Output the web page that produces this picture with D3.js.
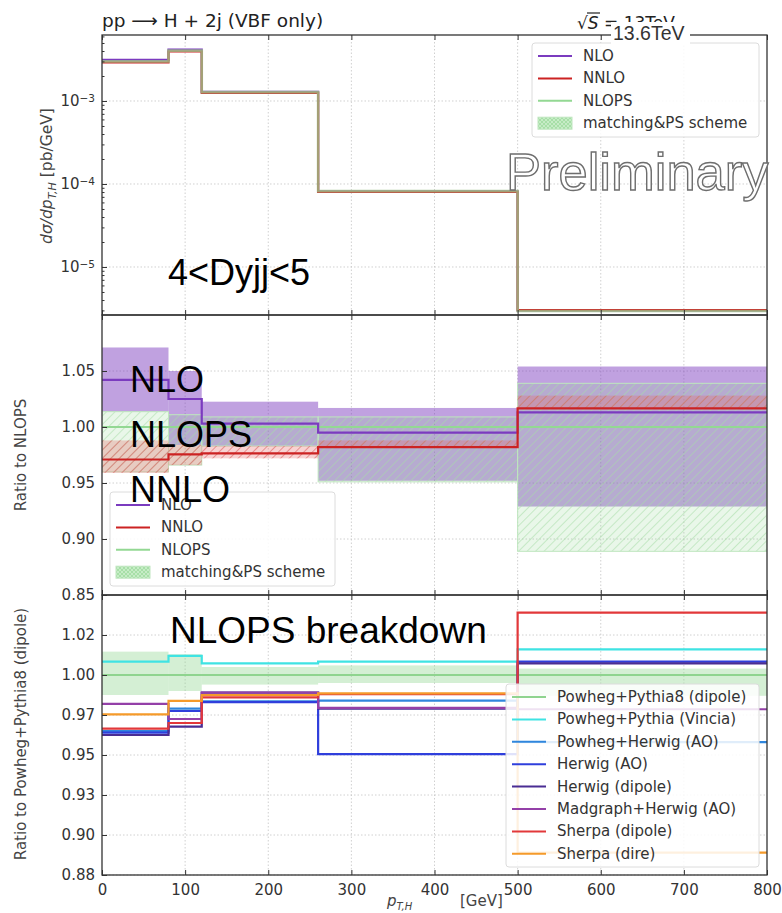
<!DOCTYPE html>
<html>
<head>
<meta charset="utf-8">
<script src="https://cdn.jsdelivr.net/npm/d3@7"></script>
<style>
body { margin: 0; background: #fff; }
svg { display: block; }
text { font-family: "DejaVu Sans", sans-serif; }
</style>
</head>
<body>
<svg id="chart" width="782" height="913"></svg>
<script>
// bin edges in pT,H [GeV]
var edges = [0, 80, 120, 260, 500, 800];

// top panel: cross sections [pb/GeV]
var xsNLO   = [3.13e-3, 4.15e-3, 1.285e-3, 8.16e-5, 2.99e-6];
var xsNNLO  = [2.92e-3, 3.95e-3, 1.25e-3, 8.05e-5, 3.02e-6];
var xsNLOPS = [3.00e-3, 4.05e-3, 1.28e-3, 8.20e-5, 2.95e-6];

// middle panel: ratio to NLOPS
var ratNLO      = [1.042, 1.025, 1.003, 0.995, 1.013];
var ratNNLO     = [0.971, 0.9756, 0.9765, 0.982, 1.0167];
var nloLo       = [1.0137, 0.984, 0.983, 0.952, 0.929];
var nloHi       = [1.071, 1.050, 1.0226, 1.017, 1.054];
var nnloLo      = [0.959, 0.966, 0.972, 0.982, 1.0167];
var nnloHi      = [0.988, 0.984, 0.983, 0.988, 1.028];
var psLo        = [0.960, 0.966, 0.983, 0.951, 0.889];
var psHi        = [1.0137, 1.011, 1.009, 1.009, 1.039];

// bottom panel: ratio to Powheg+Pythia8 (dipole)
var pyDipole     = [1, 1, 1, 1, 1];
var pyDipoleLo   = [0.9875, 0.990, 0.994, 0.995, 0.987];
var pyDipoleHi   = [1.0146, 1.013, 1.005, 1.006, 1.004];
var pyVincia     = [1.0083, 1.012, 1.0073, 1.0083, 1.016];
var powHerwigAO  = [0.965, 0.979, 0.9835, 0.984, 0.958];
var herwigAO     = [0.964, 0.9775, 0.983, 0.9506, 1.0083];
var herwigDipole = [0.9625, 0.9677, 0.989, 0.979, 1.0073];
var mgHerwigAO   = [0.982, 0.9725, 0.989, 0.9795, 0.9786];
var sherpaDipole = [0.9665, 0.970, 0.986, 0.988, 1.039];
var sherpaDire   = [0.9754, 0.9838, 0.9875, 0.9885, 0.889];

var breakdownNames = ["Powheg+Pythia8 (dipole)", "Powheg+Pythia (Vincia)", "Powheg+Herwig (AO)",
    "Herwig (AO)", "Herwig (dipole)", "Madgraph+Herwig (AO)", "Sherpa (dipole)", "Sherpa (dire)"];
var breakdownVals = [pyDipole, pyVincia, powHerwigAO, herwigAO, herwigDipole, mgHerwigAO, sherpaDipole, sherpaDire];
var breakdownCols = ["#8fd48f", "#3fe3e3", "#2f86dd", "#2f3fdc", "#4a2d93", "#9440a8", "#e2383a", "#f59a2a"];

// ticks
var xTicks = [0, 100, 200, 300, 400, 500, 600, 700, 800];
var topTicks = [1e-5, 1e-4, 1e-3];
var topTickExp = ["\u22125", "\u22124", "\u22123"];
var midTicks = [0.85, 0.90, 0.95, 1.00, 1.05];
var botTicks = [0.875, 0.9, 0.925, 0.95, 0.975, 1.0, 1.025];
var botTickLabels = ["0.88", "0.90", "0.93", "0.95", "0.97", "1.00", "1.02"];

var cNLO = "#7b3bbf", cNNLO = "#cc2222", cPS = "#93d893";

var svg = d3.select("#chart");
var L = 102, R = 767;
var x = d3.scaleLinear().domain([0, 800]).range([L, R]);
var yTop = d3.scaleLog().domain([2.64e-6, 6.24e-3]).range([315, 35]);
var yMid = d3.scaleLinear().domain([0.85, 1.10]).range([595, 315]);
var yBot = d3.scaleLinear().domain([0.875, 1.05]).range([875, 595]);

var defs = svg.append("defs");
function hatch(id, col, w) {
    var p = defs.append("pattern").attr("id", id).attr("patternUnits", "userSpaceOnUse")
        .attr("width", 6).attr("height", 6).attr("patternTransform", "rotate(45)");
    p.append("line").attr("x1", 0).attr("y1", 0).attr("x2", 0).attr("y2", 6)
        .attr("stroke", col).attr("stroke-width", w);
}
hatch("hG", "#a6dca6", 1.1);
hatch("hR", "#d85a5a", 1.1);
var xp = defs.append("pattern").attr("id", "xG").attr("patternUnits", "userSpaceOnUse")
    .attr("width", 4).attr("height", 4);
xp.append("rect").attr("width", 4).attr("height", 4).attr("fill", "#c6ecc6");
xp.append("path").attr("d", "M0,0L4,4M4,0L0,4").attr("stroke", "#9fdc9f").attr("stroke-width", 0.8);

[["cTop", 35], ["cMid", 315], ["cBot", 595]].forEach(function(c) {
    defs.append("clipPath").attr("id", c[0]).append("rect")
        .attr("x", L).attr("y", c[1]).attr("width", R - L).attr("height", 280);
});

function pts(v) { return edges.map(function(e, i) { return [e, v[Math.min(i, v.length - 1)]]; }); }
function bins(lo, hi) { return lo.map(function(d, i) { return {x0: edges[i], x1: edges[i + 1], lo: d, hi: hi[i]}; }); }

function grid(y, yt, top, bot) {
    var g = svg.append("g").attr("stroke", "#c4c4c4").attr("stroke-width", 0.8).attr("stroke-dasharray", "1.5,2");
    g.selectAll("line.v").data(xTicks.slice(1, -1)).enter().append("line")
        .attr("x1", function(d) { return x(d); }).attr("x2", function(d) { return x(d); })
        .attr("y1", top).attr("y2", bot);
    g.selectAll("line.h").data(yt).enter().append("line")
        .attr("x1", L).attr("x2", R)
        .attr("y1", function(d) { return y(d); }).attr("y2", function(d) { return y(d); });
}
grid(yTop, topTicks, 35, 315);
grid(yMid, midTicks.slice(1), 315, 595);
grid(yBot, botTicks, 595, 875);

function bands(g, y, lo, hi, fill, op, pat) {
    g.selectAll(null).data(bins(lo, hi)).enter().append("rect")
        .attr("x", function(d) { return x(d.x0); })
        .attr("width", function(d) { return x(d.x1) - x(d.x0); })
        .attr("y", function(d) { return y(d.hi); })
        .attr("height", function(d) { return y(d.lo) - y(d.hi); })
        .attr("fill", fill).attr("fill-opacity", op);
    if (pat) {
        g.selectAll(null).data(bins(lo, hi)).enter().append("rect")
            .attr("x", function(d) { return x(d.x0); })
            .attr("width", function(d) { return x(d.x1) - x(d.x0); })
            .attr("y", function(d) { return y(d.hi); })
            .attr("height", function(d) { return y(d.lo) - y(d.hi); })
            .attr("fill", "url(#" + pat + ")");
    }
}
function step(g, y, v, col, w, op) {
    var line = d3.line().curve(d3.curveStepAfter)
        .x(function(d) { return x(d[0]); }).y(function(d) { return y(d[1]); });
    g.append("path").datum(pts(v)).attr("d", line).attr("fill", "none")
        .attr("stroke", col).attr("stroke-width", w).attr("stroke-opacity", op || 1);
}

// top panel
var gT = svg.append("g").attr("clip-path", "url(#cTop)");
step(gT, yTop, xsNLO, cNLO, 2.2);
step(gT, yTop, xsNNLO, cNNLO, 2.2);
step(gT, yTop, xsNLOPS, "#9bbf8a", 2.6, 0.8);

// middle panel
var gM = svg.append("g").attr("clip-path", "url(#cMid)");
bands(gM, yMid, nloLo, nloHi, cNLO, 0.48);
bands(gM, yMid, psLo, psHi, cPS, 0.2, "hG");
gM.selectAll(null).data(bins(psLo, psHi)).enter().append("rect")
    .attr("x", function(d) { return x(d.x0); }).attr("width", function(d) { return x(d.x1) - x(d.x0); })
    .attr("y", function(d) { return yMid(d.hi); }).attr("height", function(d) { return yMid(d.lo) - yMid(d.hi); })
    .attr("fill", "none").attr("stroke", "#bfe6bf").attr("stroke-width", 1);
bands(gM, yMid, nnloLo, nnloHi, "#e86a6a", 0.3, "hR");
step(gM, yMid, pyDipole, cPS, 2);
step(gM, yMid, ratNLO, cNLO, 2.2);
step(gM, yMid, ratNNLO, cNNLO, 2.2);

// bottom panel
var gB = svg.append("g").attr("clip-path", "url(#cBot)");
bands(gB, yBot, pyDipoleLo, pyDipoleHi, cPS, 0.4);
breakdownVals.forEach(function(v, i) { step(gB, yBot, v, breakdownCols[i], 2.2); });

// axes
function axes(y, top, bot, yt, yfmt, showX) {
    var ax = svg.append("g").attr("transform", "translate(0," + bot + ")")
        .call(d3.axisBottom(x).tickValues(xTicks).tickSize(-5).tickPadding(9)
            .tickFormat(showX ? d3.format("d") : function() { return ""; }));
    var at = svg.append("g").attr("transform", "translate(0," + top + ")")
        .call(d3.axisTop(x).tickValues(xTicks).tickSize(-5).tickFormat(function() { return ""; }));
    var ay = svg.append("g").attr("transform", "translate(" + L + ",0)")
        .call(d3.axisLeft(y).tickValues(yt).tickSize(-5).tickPadding(7).tickFormat(yfmt));
    [ax, at, ay].forEach(function(a) {
        a.select(".domain").remove();
        a.selectAll("line").attr("stroke", "#333").attr("stroke-width", 1);
        a.selectAll("text").attr("fill", "#333").style("font-size", "15px")
            .style("font-family", "DejaVu Sans, sans-serif");
    });
    return ay;
}
var ayT = axes(yTop, 35, 315, topTicks, function() { return ""; }, false);
ayT.selectAll(".tick text").each(function(d, i) {
    var t = d3.select(this);
    t.append("tspan").text("10");
    t.append("tspan").attr("dy", "-0.45em").style("font-size", "10.5px").text(topTickExp[i]);
});
var minor = [];
[1e-6, 1e-5, 1e-4, 1e-3].forEach(function(b) { for (var k = 2; k < 10; k++) minor.push(b * k); });
var mn = svg.append("g").attr("transform", "translate(" + L + ",0)")
    .call(d3.axisLeft(yTop).tickValues(minor.filter(function(v) { return v > 2.64e-6 && v < 6.24e-3; }))
        .tickSize(-2.5).tickFormat(function() { return ""; }));
mn.select(".domain").remove();
mn.selectAll("line").attr("stroke", "#333");

axes(yMid, 315, 595, midTicks, d3.format(".2f"), false);
axes(yBot, 595, 875, botTicks, function(d, i) { return botTickLabels[i]; }, true);

// frames
[35, 315, 595].forEach(function(t) {
    svg.append("rect").attr("x", L).attr("y", t).attr("width", R - L).attr("height", 280)
        .attr("fill", "none").attr("stroke", "#333").attr("stroke-width", 1.3);
});

// legends
function legend(x0, y0, w, h, rows, dy) {
    var g = svg.append("g");
    g.append("rect").attr("x", x0).attr("y", y0).attr("width", w).attr("height", h).attr("rx", 3)
        .attr("fill", "#fff").attr("fill-opacity", 0.85).attr("stroke", "#dcdcdc");
    rows.forEach(function(r, i) {
        var yy = y0 + 13 + i * dy;
        if (r.patch) {
            g.append("rect").attr("x", x0 + 6).attr("y", yy - 6).attr("width", 34).attr("height", 12)
                .attr("fill", "url(#xG)").attr("stroke", "#bfe6bf");
        } else {
            g.append("line").attr("x1", x0 + 6).attr("x2", x0 + 40).attr("y1", yy).attr("y2", yy)
                .attr("stroke", r.col).attr("stroke-width", 2);
        }
        g.append("text").attr("x", x0 + 51).attr("y", yy + 5).attr("fill", "#333")
            .style("font-size", "15px").text(r.name);
    });
}
var mainRows = [{name: "NLO", col: cNLO}, {name: "NNLO", col: cNNLO},
    {name: "NLOPS", col: cPS}, {name: "matching&PS scheme", patch: true}];
legend(532, 43, 227, 94, mainRows, 22.4);
legend(110, 492, 225, 94, mainRows, 22.4);
legend(506, 684, 253, 183, breakdownNames.map(function(n, i) { return {name: n, col: breakdownCols[i]}; }), 22.4);

// axis labels
var yl = svg.append("text").attr("transform", "translate(52,176) rotate(-90)")
    .attr("text-anchor", "middle").attr("fill", "#444").style("font-size", "15.5px");
yl.append("tspan").style("font-style", "italic").text("d\u03c3/dp");
yl.append("tspan").attr("dy", 4).style("font-size", "11px").style("font-style", "italic").text("T,H");
yl.append("tspan").attr("dy", -4).text(" [pb/GeV]");
svg.append("text").attr("transform", "translate(26,455) rotate(-90)").attr("text-anchor", "middle")
    .attr("fill", "#444").style("font-size", "15px").text("Ratio to NLOPS");
svg.append("text").attr("transform", "translate(26,734) rotate(-90)").attr("text-anchor", "middle")
    .attr("fill", "#444").style("font-size", "15px").text("Ratio to Powheg+Pythia8 (dipole)");
var xl = svg.append("text").attr("x", 387).attr("y", 906).attr("fill", "#444").style("font-size", "15px");
xl.append("tspan").style("font-style", "italic").text("p");
xl.append("tspan").attr("dy", 4).style("font-size", "10px").style("font-style", "italic").text("T,H");
xl.append("tspan").attr("dy", -4).attr("x", 460).text("[GeV]");

// title and energy
svg.append("text").attr("x", 102).attr("y", 27).attr("fill", "#222").style("font-size", "18.5px")
    .text("pp \u27f6 H + 2j (VBF only)");
var en = svg.append("text").attr("x", 577).attr("y", 29).attr("fill", "#222").style("font-size", "17px");
en.append("tspan").text("\u221a");
en.append("tspan").style("font-style", "italic").text("S");
en.append("tspan").text(" = 13TeV");
svg.append("line").attr("x1", 587).attr("x2", 600).attr("y1", 13).attr("y2", 13)
    .attr("stroke", "#222").attr("stroke-width", 1.2);
svg.append("rect").attr("x", 611).attr("y", 22).attr("width", 79).attr("height", 22).attr("fill", "#fff");
svg.append("text").attr("x", 613).attr("y", 40).attr("fill", "#333")
    .style("font-family", "Liberation Sans, Arial, sans-serif").style("font-size", "19.5px").text("13.6TeV");

// overlay annotations
svg.append("text").attr("x", 506).attr("y", 190).attr("fill", "#fff").attr("stroke", "#6e6e6e")
    .attr("stroke-width", 1.4).style("font-family", "Liberation Sans, Arial, sans-serif")
    .style("font-size", "52.5px").text("Preliminary");
var ann = [["4<Dyjj<5", 168, 285, 36], ["NLO", 130, 392, 36], ["NLOPS", 130, 447, 36], ["NNLO", 130, 502, 36],
    ["NLOPS breakdown", 170, 643, 37]];
ann.forEach(function(a) {
    svg.append("text").attr("x", a[1]).attr("y", a[2]).attr("fill", "#000")
        .style("font-family", "Liberation Sans, Arial, sans-serif").style("font-size", a[3] + "px").text(a[0]);
});
</script>
</body>
</html>
